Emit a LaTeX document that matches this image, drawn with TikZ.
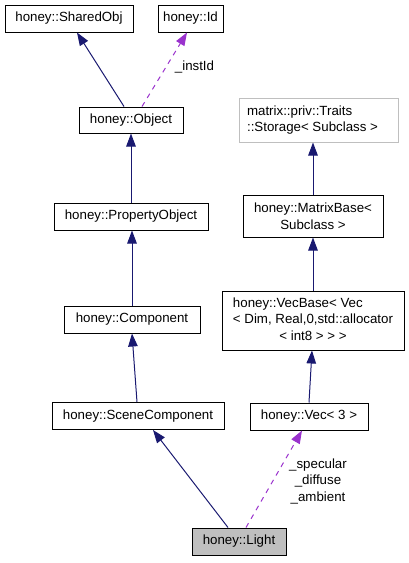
\documentclass[tikz,border=0pt]{standalone}
\usepackage{fontspec}
\setmainfont{Liberation Sans}
\usetikzlibrary{arrows.meta}
\definecolor{edgeblue}{HTML}{191970}
\definecolor{edgepurple}{HTML}{9A32CD}
\definecolor{lightgrey}{HTML}{BFBFBF}
\begin{document}
\begin{tikzpicture}[x=1pt,y=-1pt,
  font=\fontsize{13.3}{16.5}\selectfont,
  cls/.style={draw=black,line width=1pt,inner sep=0pt,fill=white},
  inh/.style={draw=edgeblue,line width=1pt,-{Triangle[length=13pt,width=9.5pt]}},
  use/.style={draw=edgepurple,line width=1pt,dash pattern=on 5pt off 5pt,-{Triangle[length=13pt,width=9.5pt]}},
  lbl/.style={inner sep=0pt,align=center}]
\useasboundingbox (0,0) rectangle (409,563);
\node[cls,minimum width=128pt,minimum height=27pt] (sharedobj) at (69,18.5) {honey::SharedObj};
\node[cls,minimum width=65pt,minimum height=27pt] (id) at (190.5,18.5) {honey::Id};
\node[cls,minimum width=104pt,minimum height=26pt] (object) at (131,120) {honey::Object};
\node[cls,minimum width=154pt,minimum height=27pt] (propobj) at (131,216.5) {honey::PropertyObject};
\node[cls,minimum width=136pt,minimum height=27pt] (component) at (132,319.5) {honey::Component};
\node[cls,minimum width=172pt,minimum height=27pt] (scenecomp) at (138,416) {honey::SceneComponent};
\node[cls,draw=lightgrey,minimum width=159pt,minimum height=44pt,align=left] (traits) at (318.5,120) {matrix::priv::Traits\\::Storage< Subclass >\hspace*{12pt}};
\node[cls,minimum width=140pt,minimum height=42pt,align=center] (matrixbase) at (313,216) {honey::MatrixBase<\\Subclass >};
\node[cls,minimum width=182pt,minimum height=59pt] (vecbase) at (313,320.5) {\begin{tabular}{@{}l@{}}honey::VecBase< Vec\\< Dim, Real,0,std::allocator\\\multicolumn{1}{@{}c@{}}{< int8 > > >}\end{tabular}};
\node[cls,minimum width=118pt,minimum height=27pt] (vec) at (309,416.5) {honey::Vec< 3 >};
\node[cls,fill=lightgrey,minimum width=94pt,minimum height=27pt] (light) at (239,541.5) {honey::Light};
\node[lbl] (instid) at (194.5,67) {\_instId};
\node[lbl] (vecuse) at (318,481) {\_specular\\\_diffuse\\\_ambient};
\draw[inh] ([xshift=-7pt]object.north) -- ([xshift=8pt]sharedobj.south);
\draw[use] ([xshift=11pt]object.north) -- ([xshift=-3.5pt]id.south);
\draw[inh] (propobj.north) -- (object.south);
\draw[inh] (component.north) -- (component.north |- propobj.south);
\draw[inh] ([xshift=-1pt]scenecomp.north) -- (component.south);
\draw[inh] ([xshift=-11pt]light.north) -- ([xshift=15pt]scenecomp.south);
\draw[use] ([xshift=7pt]light.north) -- ([xshift=-7pt]vec.south);
\draw[inh] (vec.north) -- ([xshift=-1pt]vecbase.south);
\draw[inh] (vecbase.north) -- (matrixbase.south);
\draw[inh] (matrixbase.north) -- (matrixbase.north |- traits.south);
\end{tikzpicture}
\end{document}
